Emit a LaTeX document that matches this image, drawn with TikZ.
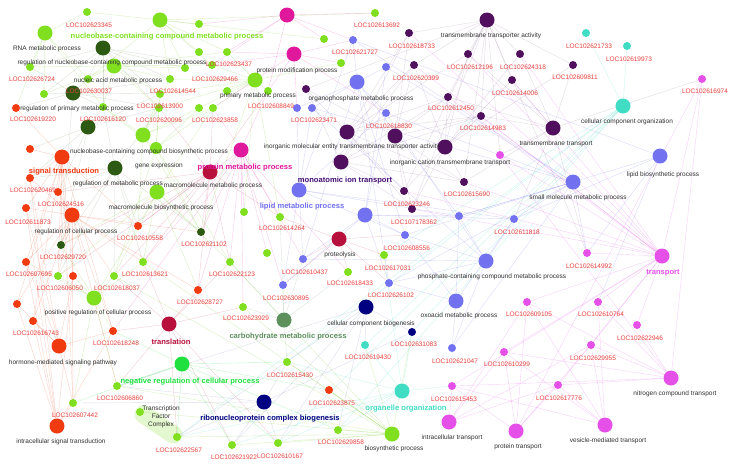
\documentclass[tikz,border=0pt]{standalone}
\usepackage{fontspec}
\setmainfont{Liberation Sans}
\pgfdeclarelayer{bgl}
\pgfdeclarelayer{edges}
\pgfsetlayers{bgl,edges,main}
\definecolor{cLime}{HTML}{80E020}
\definecolor{cDkG}{HTML}{2D5A12}
\definecolor{cRed}{HTML}{F03A10}
\definecolor{cCrim}{HTML}{B8103C}
\definecolor{cMag}{HTML}{E0189C}
\definecolor{cPur}{HTML}{50105E}
\definecolor{cPer}{HTML}{7272F0}
\definecolor{cTurq}{HTML}{40DCC4}
\definecolor{cPink}{HTML}{E450E8}
\definecolor{cNavy}{HTML}{000080}
\definecolor{cGG}{HTML}{5E905E}
\definecolor{cBG}{HTML}{20E040}
\definecolor{geneRed}{HTML}{E8403C}
\definecolor{termGray}{HTML}{303030}
\colorlet{eLime}{cLime!90!black}
\colorlet{eDkG}{cDkG!65!white}
\colorlet{eRed}{cRed!85!white}
\colorlet{eCrim}{cCrim!80!white}
\colorlet{eMag}{cMag!85!white}
\colorlet{ePur}{cPur!60!white}
\colorlet{ePer}{cPer}
\colorlet{eTurq}{cTurq}
\colorlet{ePink}{cPink}
\colorlet{eNavy}{cNavy!50!white}
\colorlet{eGG}{cGG!80!white}
\colorlet{eBG}{cBG}
\newcommand\myfan[3]{\foreach \x in {#3} \draw[ed,#2] (#1) -- (\x);}
\begin{document}
\begin{tikzpicture}[x=1pt,y=-1pt,
 nd/.style={circle,inner sep=0pt,draw=none},
 big/.style={nd,minimum size=15pt},
 sml/.style={nd,minimum size=8pt},
 gl/.style={font=\fontsize{6.5}{7}\selectfont,text=geneRed,inner sep=0pt},
 tl/.style={font=\fontsize{6.5}{7}\selectfont,text=termGray,inner sep=0pt},
 bl/.style={font=\fontsize{7.6}{8}\selectfont\bfseries,inner sep=0pt},
 ed/.style={line width=0.4pt,opacity=0.26}]
\begin{pgfonlayer}{bgl}
\fill[white] (0,0) rectangle (730,466);
\end{pgfonlayer}
\useasboundingbox (0,0) rectangle (730,466);
% ---------- term nodes ----------
\node[big,fill=cLime] (gA) at (160,20) {};
\node[big,fill=cLime] (gB) at (45,33) {};
\node[big,fill=cLime] (gC) at (114,66) {};
\node[big,fill=cLime] (gD) at (143,135) {};
\node[nd,minimum size=12pt,fill=cLime] (gE) at (156,148) {};
\node[big,fill=cLime] (gF) at (157,192) {};
\node[big,fill=cLime] (gG) at (255,80) {};
\node[big,fill=cLime] (gH) at (94,298) {};
\node[big,fill=cLime] (gI) at (392,434) {};
\node[big,fill=cDkG] (dgA) at (103,48) {};
\node[big,fill=cDkG] (dgB) at (73,93) {};
\node[big,fill=cDkG] (dgC) at (88,127) {};
\node[big,fill=cDkG] (dgD) at (115,168) {};
\node[big,fill=cRed] (rA) at (62,157) {};
\node[big,fill=cRed] (rB) at (72,215) {};
\node[big,fill=cRed] (rC) at (59,346) {};
\node[big,fill=cRed] (rD) at (57,426) {};
\node[big,fill=cCrim] (cA) at (210,172) {};
\node[big,fill=cCrim] (cB) at (169,324) {};
\node[big,fill=cCrim] (cC) at (339,239) {};
\node[big,fill=cMag] (mA) at (287,15) {};
\node[big,fill=cMag] (mB) at (294,54) {};
\node[big,fill=cMag] (mC) at (241,150) {};
\node[big,fill=cPur] (pA) at (487,20) {};
\node[big,fill=cPur] (pB) at (347,132) {};
\node[big,fill=cPur] (pC) at (395,136) {};
\node[big,fill=cPur] (pD) at (445,147) {};
\node[big,fill=cPur] (pE) at (341,162) {};
\node[big,fill=cPur] (pF) at (553,128) {};
\node[big,fill=cPer] (bA) at (357,82) {};
\node[big,fill=cPer] (bB) at (299,190) {};
\node[big,fill=cPer] (bC) at (365,215) {};
\node[big,fill=cPer] (bD) at (573,182) {};
\node[big,fill=cPer] (bE) at (660,156) {};
\node[big,fill=cPer] (bF) at (486,261) {};
\node[big,fill=cPer] (bG) at (456,301) {};
\node[big,fill=cTurq] (tA) at (623,106) {};
\node[big,fill=cTurq] (tB) at (402,391) {};
\node[big,fill=cNavy] (nA) at (366,307) {};
\node[big,fill=cNavy] (nB) at (264,402) {};
\node[big,fill=cGG] (ggA) at (284,320) {};
\node[big,fill=cBG] (bgA) at (182,364) {};
\node[big,fill=cPink] (kA) at (662,256) {};
\node[big,fill=cPink] (kB) at (671,378) {};
\node[big,fill=cPink] (kC) at (605,425) {};
\node[big,fill=cPink] (kD) at (516,431) {};
\node[big,fill=cPink] (kE) at (449,422) {};
% ---------- gene nodes ----------
\foreach \n/\x/\y in {L23345/87/12,L26724/30/67,L30037/88/79,L14544/170/79,L13900/160/94,L20096/159/108,L16120/103/107,L23437/227/52,L29466/212/65,L23858/213/108,L08849/268/91,L13692/375/13,L14264/280/217,L22123/230/262,L18433/348/272,L17031/384/255,L23929/243/307,L15430/287/362,L29858/338/430,L21922/232/445,L10167/278/443,L22567/177/437,L06860/117/386,L07442/73/403,TFC/140/412,L06050/58/276,L18037/114/276,L13621/143/262,u1/199/24,u2/199/52,u3/185/68,u4/227/91,u5/199/108,u6/324/39,u7/341/63,u8/44/94,u9/244/212,u10/267/253}
  \node[sml,fill=cLime] (\n) at (\x,\y) {};
\foreach \n/\x/\y in {L29720/61/245,L21102/201/232}
  \node[sml,fill=cDkG] (\n) at (\x,\y) {};
\foreach \n/\x/\y in {L19220/16/108,u11/30/149,L20469/30/178,L24516/58/192,L11873/26/208,L10558/138/226,L07695/26/262,u12/73/276,u13/17/304,L16743/33/321,L18248/113/331,L28727/198/290,L23875/329/390}
  \node[sml,fill=cRed] (\n) at (\x,\y) {};
\foreach \n/\x/\y in {L18733/409/33,L12196/468/54,L24318/520/54,L20399/414/65,L14006/512/80,L12450/448/97,L14983/481/116,L09811/573/65,u14/306/89,L15690/464/182,L23246/404/191,L07178/412/209}
  \node[sml,fill=cPur] (\n) at (\x,\y) {};
\foreach \n/\x/\y in {L21727/353/40,u15/386/67,L18830/386/113,u16/297/108,L23471/312/108,u17/459/216,L11818/514/219,L08556/405/235,L10437/303/259,L30895/283/285,L26102/389/283,L21047/452/348}
  \node[sml,fill=cPer] (\n) at (\x,\y) {};
\foreach \n/\x/\y in {L21733/586/33,L19973/627/46,L19430/365/345}
  \node[sml,fill=cTurq] (\n) at (\x,\y) {};
\node[sml,fill=cNavy] (L31083) at (412,332) {};
\foreach \n/\x/\y in {L16974/702/79,u18/500/155,L14992/587/253,L09105/527/302,L10764/598/302,L22946/637/325,L29955/591/345,L10299/504/352,L15453/452/386,L17776/558/385}
  \node[sml,fill=cPink] (\n) at (\x,\y) {};
% ---------- edges ----------
\begin{pgfonlayer}{edges}
\draw[line width=18pt,line cap=round,draw=cLime,opacity=0.22] (TFC) -- (L22567);
\myfan{gA}{eLime}{L23345,u1,u2,L23437,L14544,L29466,L13692,u6,L30037,u3}
\myfan{gB}{eLime}{L23345,L26724,L30037,u8,L16120,L19220}
\myfan{gC}{eLime}{L26724,L30037,L14544,L13900,L20096,L16120,u3,L29466,L23437,u8}
\myfan{gD}{eLime}{L13900,L20096,L16120,L14544,L23858,u5,L21102,L10558}
\myfan{gE}{eLime}{L20096,L13900,L16120,u5,L23858,L21102,L22123,L18037}
\myfan{gF}{eLime}{L21102,L22123,L13621,L18037,L06050,L10558,L28727,L23858,L29720}
\myfan{gG}{eLime}{L23437,L29466,L23858,L08849,u4,u5,L14544,L20096,L13900,u7,L14264,u9,L21102}
\myfan{gH}{eLime}{L06050,L18037,L13621,L29720,L07695,L07442,L18248,L06860,u12,L10558}
\myfan{gI}{eLime}{L29858,L10167,L21922,L22567,L15430,L23875,L06860,L23929,L19430,L31083,L13621,L18037,L22123,TFC}
\myfan{dgA}{eDkG}{L23345,L26724,L30037,L14544,L13900,L20096,L16120,u8,u3,L29466}
\myfan{dgB}{eDkG}{L26724,L30037,L16120,L13900,L20096,L14544,u8,L19220,L29720}
\myfan{dgC}{eDkG}{L16120,L20096,L13900,u11,L20469,L24516,L29720}
\myfan{dgD}{eDkG}{L20469,L24516,L10558,L29720,L21102,L18037,L13621,L06050,L16120,L20096}
\myfan{rA}{eRed}{L19220,u11,L20469,L24516,L11873,L29720,L07695,L16743,L18248,L07442,L10558,u12,u13,L06050}
\myfan{rB}{eRed}{L20469,L24516,L11873,L10558,L29720,L07695,L06050,L18037,L13621,L16743,L18248,u12,u13,L07442,L06860,L21102,L28727}
\myfan{rC}{eRed}{L16743,L07695,L11873,u13,L18248,u12,L07442,L20469}
\myfan{rD}{eRed}{L07442,L16743,L18248,u13,L07695,L11873,L20469,u12}
\myfan{cA}{eCrim}{L21102,L29720,L10558,L24516,L22123,L28727,L13621,L18037,L06050,L14264,L23858,L20096,L08849}
\myfan{cB}{eCrim}{L22123,L28727,L23929,L18248,L06860,L22567,L10167,L21922,L13621,L18037}
\myfan{cC}{eCrim}{L10437,L30895,L18433,L14264,L17031,L26102,L08556}
\myfan{mA}{eMag}{L23437,L29466,u1,u6,L13692,L21727,L08849}
\myfan{mB}{eMag}{L23437,L29466,u7,L21727,L08849,u16,L23858,L18830}
\myfan{mC}{eMag}{L22123,L21102,L28727,L10558,L13621,L23858,L08849,L14264,L23929,L10437,L30895,L18433,u9,u10,L18248}
\myfan{pA}{ePur}{L18733,L12196,L24318,L20399,L14006,L12450,L14983,L09811,L15690,L23246,L07178,u14,u18,L14992}
\myfan{pB}{ePur}{L18733,L20399,L12450,L14983,L23246,L07178,L15690,u14,L12196}
\myfan{pC}{ePur}{L18733,L20399,L12450,L14983,L23246,L07178,L15690,u14}
\myfan{pD}{ePur}{L12196,L24318,L14006,L12450,L14983,L15690,L23246,L07178,L09811,L20399}
\myfan{pE}{ePur}{L18733,L20399,L12450,L14983,L23246,L07178,L15690,u14}
\myfan{pF}{ePur}{L12196,L24318,L14006,L14983,L09811,L12450,L15690,L16974,L14992,u18,L11818}
\myfan{bA}{ePer}{L21727,u15,L18830,u16,L23471,L26102,L08556,u17,L10437}
\myfan{bB}{ePer}{L21727,L18830,u16,L23471,L10437,L30895,L08556,u17,L11818}
\myfan{bC}{ePer}{L08556,L26102,L10437,L30895,L18830,u17,L11818,u15}
\myfan{bD}{ePer}{u17,L11818,L08556,L18830,L21047,L26102,L21727,u15,L23471,L14992}
\myfan{bE}{ePer}{L11818,u17,L21727,L14992,L10764}
\myfan{bF}{ePer}{L26102,L08556,u17,L11818,L23471,L10437,L21047,L18830}
\myfan{bG}{ePer}{L21047,L26102,L08556,u17,L11818}
\myfan{tA}{eTurq}{L21733,L19973,L19430,L31083,L17031,L29858,L10167,L15430,L22567}
\myfan{tB}{eTurq}{L19430,L31083,L15453,L29858,L10167,L15430,L21922,L22567,L17031}
\myfan{nA}{eNavy}{L31083,L19430,L21922,L10167,L29858,L22567,L06860}
\myfan{nB}{eNavy}{L31083,L21922,L10167,L22567,L06860,L07442,L15430}
\myfan{ggA}{eGG}{L23929,L15430,L22123,L14264,L10437,L30895,L18433}
\myfan{bgA}{eBG}{L06860,L22567,L07442,L21922,L10167,L18248,L23875,L29858,L15430}
\myfan{kA}{ePink}{L16974,u18,L14992,L09105,L10764,L22946,L29955,L10299,L15453,L17776,L12450,L14983,L15690,L23246,L07178,L12196,L20399,L18733,L14006,L24318}
\myfan{kB}{ePink}{L16974,L10764,L22946,L29955,L17776,L09105,L10299,L15453,u18}
\myfan{kC}{ePink}{L29955,L10764,L17776,L10299,L15453,L09105}
\myfan{kD}{ePink}{L10299,L15453,L17776,L09105,L29955,L16974}
\myfan{kE}{ePink}{L15453,L10299,L17776,L09105,L29955}
\end{pgfonlayer}
% ---------- term labels ----------
\foreach \n/\x/\y/\t in {
 tRNA/47/49/{RNA metabolic process},
 tRegN/112/63/{regulation of nucleobase-containing compound metabolic process},
 tNuc/118/81/{nucleic acid metabolic process},
 tRegP/77/109/{regulation of primary metabolic process},
 tNucB/149/152/{nucleobase-containing compound biosynthetic process},
 tProtM/297/71/{protein modification process},
 tPrim/258/96/{primary metabolic process},
 tOrg/361/99/{organophosphate metabolic process},
 tInorg/352/147/{inorganic molecular entity transmembrane transporter activity},
 tTTA/491/36/{transmembrane transporter activity},
 tICT/450/163/{inorganic cation transmembrane transport},
 tTT/556/144/{transmembrane transport},
 tCCO/627/122/{cellular component organization},
 tLipB/663/175/{lipid biosynthetic process},
 tSmall/578/198/{small molecule metabolic process},
 tGene/159/166/{gene expression},
 tRegM/118/184/{regulation of metabolic process},
 tMacB/161/208/{macromolecule biosynthetic process},
 tMacM/213/186/{macromolecule metabolic process},
 tProteo/340/255/{proteolysis},
 tPhos/492/277/{phosphate-containing compound metabolic process},
 tOxo/459/316/{oxoacid metabolic process},
 tRegC/76/232/{regulation of cellular process},
 tPos/98/313/{positive regulation of cellular process},
 tHorm/63/363/{hormone-mediated signaling pathway},
 tISig/61/442/{intracellular signal transduction},
 tCCB/371/324/{cellular component biogenesis},
 tBio/394/449/{biosynthetic process},
 tIT/452/438/{intracellular transport},
 tPT/518/447/{protein transport},
 tNCT/675/394/{nitrogen compound transport},
 tVes/608/441/{vesicle-mediated transport}}
 \node[tl] (\n) at (\x,\y) {\t};
\node[tl,align=center,font=\fontsize{6.5}{8}\selectfont] (tTFC) at (161,417) {Transcription\\Factor\\Complex};
% ---------- bold group labels ----------
\node[bl,text=cLime] (hNuc) at (167,37) {nucleobase-containing compound metabolic process};
\node[bl,text=cRed] (hSig) at (64,172) {signal transduction};
\node[bl,text=cMag] (hProt) at (245,168) {protein metabolic process};
\node[bl,text=cPur!85!blue] (hMono) at (345,181) {monoatomic ion transport};
\node[bl,text=cPer] (hLip) at (302,207) {lipid metabolic process};
\node[bl,text=cPink] (hTr) at (663,273) {transport};
\node[bl,text=cCrim] (hTl) at (171,342) {translation};
\node[bl,text=cBG] (hNeg) at (190,382) {negative regulation of cellular process};
\node[bl,text=cGG] (hCarb) at (288,337) {carbohydrate metabolic process};
\node[bl,text=cNavy] (hRib) at (270,419) {ribonucleoprotein complex biogenesis};
\node[bl,text=cTurq] (hOrg) at (406,409) {organelle organization};
% ---------- gene labels ----------
\foreach \n/\x/\y/\t in {
 a1/89/25/LOC102623345, a2/32/79/LOC102626724, a3/89/91/LOC102630037,
 a4/173/91/LOC102614544, a5/33/119/LOC102619220, a6/103/119/LOC102616120,
 a7/160/106/LOC102613900, a8/159/120/LOC102620096, a9/229/64/LOC102623437,
 a10/215/79/LOC102629466, a11/271/106/LOC102608849, a12/215/120/LOC102623858,
 a13/314/120/LOC102623471, a14/355/52/LOC102621727, a15/377/25/LOC102613692,
 a16/412/46/LOC102618733, a17/470/67/LOC102612196, a18/523/67/LOC102624318,
 a19/416/78/LOC102620399, a20/515/93/LOC102614006, a21/451/108/LOC102612450,
 a22/483/128/LOC102614983, a23/389/126/LOC102618830, a24/589/46/LOC102621733,
 a25/629/59/LOC102619973, a26/575/77/LOC102609811, a27/705/91/LOC102616974,
 a28/33/190/LOC102620469, a29/61/204/LOC102624516, a30/28/222/LOC102611873,
 a31/140/238/LOC102610558, a32/63/257/LOC102629720, a33/29/274/LOC102607695,
 a34/145/274/LOC102613621, a35/60/288/LOC102606050, a36/117/288/LOC102618037,
 a37/204/244/LOC102621102, a38/282/228/LOC102614264, a39/232/274/LOC102622123,
 a40/305/272/LOC102610437, a41/350/283/LOC102618433, a42/200/302/LOC102628727,
 a43/286/298/LOC102630895, a44/467/194/LOC102615690, a45/407/204/LOC102623246,
 a46/414/222/LOC107178362, a47/517/232/LOC102611818, a48/407/248/LOC102608556,
 a49/388/268/LOC102617031, a50/391/295/LOC102626102, a51/529/314/LOC102609105,
 a52/589/266/LOC102614992, a53/601/314/LOC102610764, a54/36/333/LOC102616743,
 a55/116/343/LOC102618248, a56/120/398/LOC102606860, a57/75/415/LOC102607442,
 a58/179/450/LOC102622567, a59/246/318/LOC102623929, a60/290/375/LOC102615430,
 a61/332/403/LOC102623875, a62/368/357/LOC102619430, a63/341/442/LOC102629858,
 a64/234/457/LOC102621922, a65/280/456/LOC102610167, a66/414/344/LOC102631083,
 a67/455/361/LOC102621047, a68/507/364/LOC102610299, a69/454/399/LOC102615453,
 a70/640/338/LOC102622946, a71/593/358/LOC102629955, a72/559/398/LOC102617776}
 \node[gl] (\n) at (\x,\y) {\t};
\end{tikzpicture}
\end{document}
